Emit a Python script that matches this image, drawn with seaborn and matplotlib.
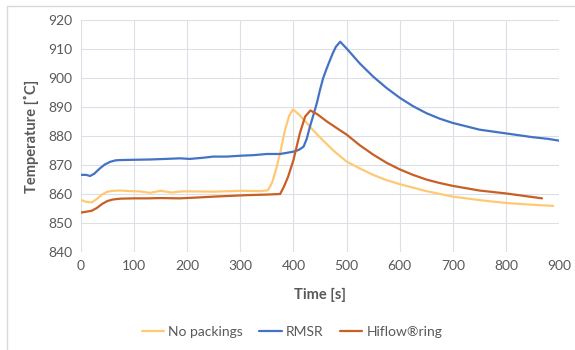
import matplotlib
matplotlib.use("Agg")
import matplotlib.pyplot as plt
import seaborn as sns
import pandas as pd
from matplotlib.lines import Line2D

# ---- data ----
t_nopack = [0, 10, 20, 30, 40, 50, 60, 75, 90, 110, 130, 150, 170, 190, 210, 250, 300, 340, 352,
            360, 368, 376, 384, 392, 399, 410, 420, 437, 450, 475, 500, 525, 550, 575, 600,
            650, 700, 750, 800, 850, 889]
T_nopack = [857.9, 857.3, 857.1, 858.3, 859.9, 860.8, 861.1, 861.2, 861.0, 860.9, 860.4, 861.1,
            860.5, 860.9, 860.9, 860.8, 861.1, 861.0, 861.3, 864.0, 869.0, 875.0, 882.0, 887.0,
            889.2, 887.5, 885.5, 882.0, 879.5, 875.0, 871.2, 868.8, 866.6, 864.8, 863.4,
            861.0, 859.1, 857.9, 856.9, 856.3, 855.9]

t_rmsr = [0, 10, 17, 25, 36, 45, 55, 65, 73, 100, 130, 160, 186, 205, 230, 249, 275, 300, 325,
          350, 375, 400, 410, 419, 425, 431, 438, 444, 450, 456, 462, 468, 474, 480, 488, 500,
          525, 550, 575, 600, 625, 650, 675, 700, 750, 800, 850, 880, 900]
T_rmsr = [866.6, 866.6, 866.2, 867.0, 868.9, 870.2, 871.1, 871.6, 871.7, 871.8, 871.9, 872.1,
          872.3, 872.1, 872.5, 872.9, 872.9, 873.2, 873.4, 873.8, 873.8, 874.6, 875.2, 876.3,
          879.0, 883.2, 887.5, 891.3, 895.9, 900.0, 903.0, 905.8, 908.5, 910.8, 912.5, 910.2,
          905.0, 900.5, 896.6, 893.2, 890.3, 887.9, 886.0, 884.5, 882.2, 880.9, 879.6, 879.0,
          878.4]

t_hiflow = [0, 10, 20, 30, 40, 50, 60, 75, 100, 125, 150, 186, 220, 250, 312, 350, 375, 382, 390,
            400, 412, 422, 432, 445, 463, 485, 500, 525, 550, 575, 600, 625, 650, 675, 700, 750,
            800, 840, 868]
T_hiflow = [853.6, 853.9, 854.2, 855.2, 856.6, 857.6, 858.1, 858.4, 858.5, 858.5, 858.6, 858.5,
            858.8, 859.1, 859.6, 859.8, 860.0, 862.5, 866.0, 871.7, 880.9, 886.7, 888.8, 887.5,
            885.0, 882.3, 880.5, 876.8, 873.6, 870.8, 868.5, 866.6, 865.0, 863.8, 862.8, 861.2,
            860.2, 859.2, 858.5]

series_names = ["No packings", "RMSR", "Hiflow\u00aering"]
x_ticks = [0, 100, 200, 300, 400, 500, 600, 700, 800, 900]
y_ticks = [840, 850, 860, 870, 880, 890, 900, 910, 920]
colors = ["#FFC973", "#4472C4", "#C85F25"]

df = pd.concat([
    pd.DataFrame({"Time": t_nopack, "Temp": T_nopack, "Series": series_names[0]}),
    pd.DataFrame({"Time": t_rmsr, "Temp": T_rmsr, "Series": series_names[1]}),
    pd.DataFrame({"Time": t_hiflow, "Temp": T_hiflow, "Series": series_names[2]}),
], ignore_index=True)

sns.set_theme(style="white")
plt.rcParams["font.family"] = ["Lato", "DejaVu Sans"]

fig = plt.figure(figsize=(5.75, 3.5), dpi=100)
ax = fig.add_axes([81 / 575, 1 - 252 / 350, 478 / 575, 232 / 350])

sns.lineplot(data=df, x="Time", y="Temp", hue="Series", hue_order=series_names,
             palette=colors, linewidth=1.6, ax=ax, legend=False, sort=False, estimator=None)

ax.set_xlim(0, 900)
ax.set_ylim(840, 920)
ax.set_xticks(x_ticks)
ax.set_yticks(y_ticks)
ax.grid(True, color="#DCDFE6", linewidth=0.8)
ax.set_axisbelow(True)
for s in ax.spines.values():
    s.set_visible(False)
ax.tick_params(axis="both", length=0, labelsize=10, colors="#595959", pad=6)

ax.set_xlabel("Time [s]", fontsize=10.5, fontweight="bold", color="#595959")
ax.set_ylabel("Temperature [\u02daC]", fontsize=10.5, fontweight="bold", color="#595959")
ax.xaxis.set_label_coords(0.5, (252 - 295) / 232)
ax.xaxis.label.set_va("center")
ax.yaxis.set_label_coords((31 - 81) / 478, 0.5)
ax.yaxis.label.set_va("center")

handles = [Line2D([0], [0], color=c, lw=1.6) for c in colors]
fig.legend(handles, series_names, loc="center", bbox_to_anchor=(292 / 575, 1 - 332 / 350),
           ncol=3, frameon=False, fontsize=10, handlelength=1.6, handletextpad=0.3,
           columnspacing=1.2, labelcolor="#595959")

# chart border (left and top visible)
fig.add_artist(Line2D([7 / 575, 7 / 575], [0, 1 - 6 / 350], color="#D9D9D9", lw=1,
                      transform=fig.transFigure))
fig.add_artist(Line2D([7 / 575, 1], [1 - 6 / 350, 1 - 6 / 350], color="#D9D9D9", lw=1,
                      transform=fig.transFigure))

fig.savefig("out.png", dpi=100)
